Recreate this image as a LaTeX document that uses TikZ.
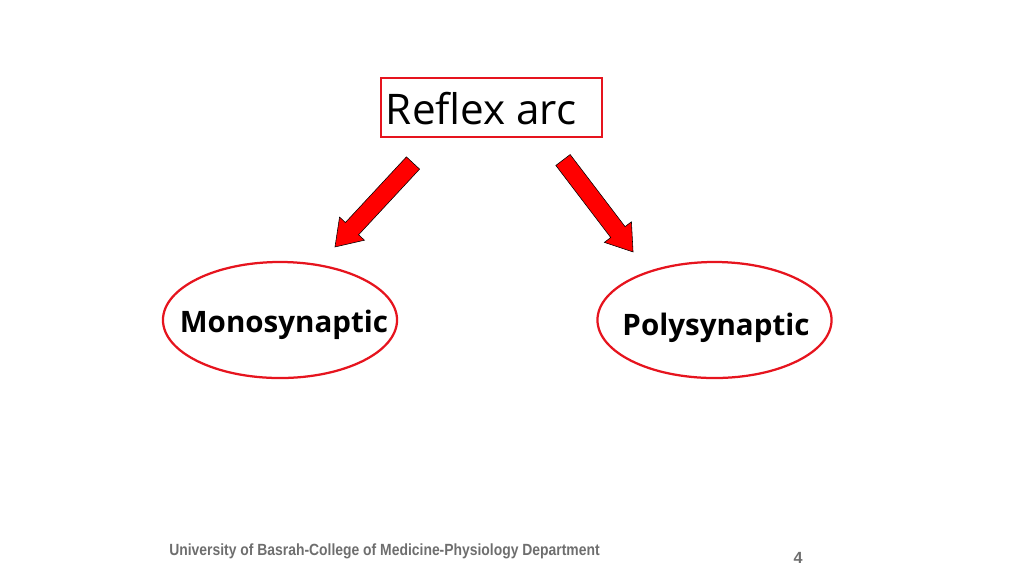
\documentclass[tikz,border=0pt]{standalone}
\usepackage{fontspec}
\setmainfont{Open Sans}
\newfontfamily\footfont{Liberation Sans}
\usetikzlibrary{shapes.geometric}
\definecolor{arcred}{RGB}{230,20,30}
\definecolor{footgray}{RGB}{110,110,110}
\tikzset{
  kind/.style={draw=arcred, line width=1.6pt, ellipse, minimum width=5.85cm, minimum height=2.9cm},
  blockarrow/.style={draw=black, fill=red, line width=0.4pt, line join=miter}
}
\newcommand{\blockarrowshape}[1]{% length in px along +x
  (0,-9) -- ({#1-25},-9) -- ({#1-25},-17) -- (#1,0) -- ({#1-25},17) -- ({#1-25},9) -- (0,9) -- cycle}
\begin{document}
\begin{tikzpicture}[x=0.025cm,y=-0.025cm]
  \useasboundingbox (0,0) rectangle (1024,575);

  % title box
  \node[draw=arcred, line width=1pt, minimum width=5.525cm, minimum height=1.475cm] (title) at (491.5,107.5) {};
  \node[anchor=west, font=\fontsize{30}{34}\selectfont] (titletext) at (381,109) {Reflex arc};

  % the two kinds
  \node[kind] (mono) at (280,320) {};
  \node[font=\bfseries\fontsize{21}{25}\selectfont] (monotext) at (284,325) {Monosynaptic};
  \node[kind] (poly) at (714.5,320) {};
  \node[font=\bfseries\fontsize{21}{25}\selectfont] (polytext) at (716,328) {Polysynaptic};

  % block arrows
  \coordinate (la) at (413,163);
  \coordinate (ra) at (563,160);
  \begin{scope}[shift={(la)}, rotate=227.1]
    \draw[blockarrow] \blockarrowshape{114.6};
  \end{scope}
  \begin{scope}[shift={(ra)}, rotate=-52.7]
    \draw[blockarrow] \blockarrowshape{115.6};
  \end{scope}

  % footer
  \node[anchor=west, text=footgray, font=\footfont\bfseries\fontsize{11.5}{13}\selectfont, xscale=0.86] (footer) at (165,551) {University of Basrah-College of Medicine-Physiology Department};
  \node[text=footgray, font=\footfont\bfseries\fontsize{11.5}{13}\selectfont] (page) at (798,558) {4};
\end{tikzpicture}
\end{document}
